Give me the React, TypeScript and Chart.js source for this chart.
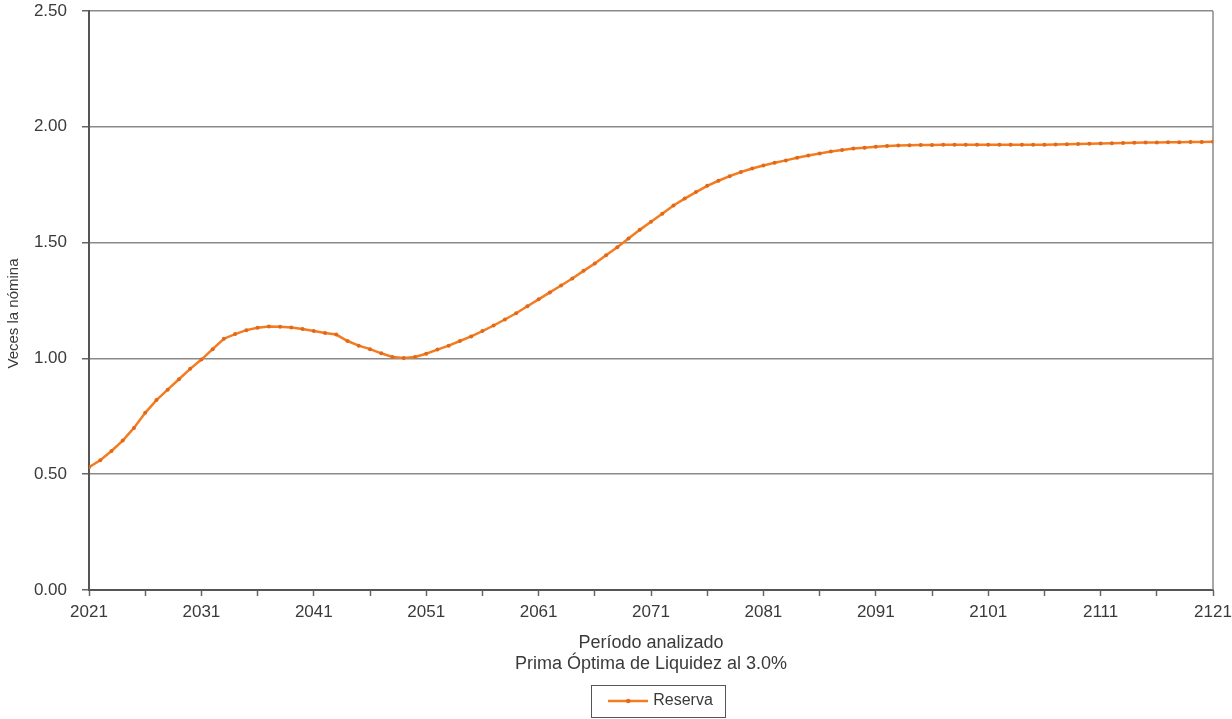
import React, { useEffect, useRef } from 'react';
import { Chart, registerables } from 'chart.js';

Chart.register(...registerables);

// Years of the analysed period (categories)
const years: number[] = Array.from({ length: 101 }, (_, i) => 2021 + i);

// Reserve, in times the payroll ("Veces la nómina")
const reserva: number[] = [
  0.530, 0.560, 0.600, 0.645, 0.700, 0.765, 0.820, 0.865, 0.910, 0.955,
  0.995, 1.040, 1.085, 1.105, 1.122, 1.132, 1.138, 1.137, 1.133, 1.127,
  1.118, 1.110, 1.103, 1.075, 1.055, 1.040, 1.022, 1.006, 1.002, 1.006,
  1.020, 1.038, 1.055, 1.075, 1.095, 1.118, 1.142, 1.168, 1.195, 1.225,
  1.255, 1.285, 1.315, 1.345, 1.378, 1.410, 1.445, 1.480, 1.518, 1.555,
  1.590, 1.625, 1.660, 1.690, 1.718, 1.745, 1.767, 1.787, 1.805, 1.820,
  1.833, 1.845, 1.855, 1.866, 1.876, 1.885, 1.893, 1.900, 1.906, 1.910,
  1.914, 1.917, 1.919, 1.920, 1.921, 1.921, 1.922, 1.922, 1.922, 1.922,
  1.922, 1.922, 1.922, 1.922, 1.923, 1.923, 1.924, 1.925, 1.926, 1.927,
  1.928, 1.929, 1.930, 1.931, 1.932, 1.932, 1.933, 1.933, 1.934, 1.934,
  1.935,
];

// Tick marks on the x axis (every 5 years) and labelled years (every 10)
const xTickYears: number[] = [
  2021, 2026, 2031, 2036, 2041, 2046, 2051, 2056, 2061, 2066, 2071,
  2076, 2081, 2086, 2091, 2096, 2101, 2106, 2111, 2116, 2121,
];
const xLabelYears: number[] = [2021, 2031, 2041, 2051, 2061, 2071, 2081, 2091, 2101, 2111, 2121];

const seriesLabel = 'Reserva';
const yTitle = 'Veces la nómina';
const xTitle = ['Período analizado', 'Prima Óptima de Liquidez al 3.0%'];

const LINE = '#F47C20';
const POINT = '#E0691A';
const TEXT = '#3a3a3a';
const FONT = "'Liberation Sans', Arial, sans-serif";

export default function App() {
  const ref = useRef<HTMLCanvasElement>(null);

  useEffect(() => {
    document.body.style.margin = '0';
    const canvas = ref.current;
    if (!canvas) return;

    // legend sample: line with a marker in the middle
    const sample = document.createElement('canvas');
    sample.width = 40;
    sample.height = 8;
    const sctx = sample.getContext('2d')!;
    sctx.strokeStyle = LINE;
    sctx.lineWidth = 2.5;
    sctx.beginPath();
    sctx.moveTo(0, 4);
    sctx.lineTo(40, 4);
    sctx.stroke();
    sctx.fillStyle = POINT;
    sctx.beginPath();
    sctx.arc(20, 4, 2.2, 0, Math.PI * 2);
    sctx.fill();

    const framePlugin = {
      id: 'frame',
      afterLayout(chart: any) {
        const lg = chart.legend;
        if (lg) {
          lg.left += 11;
          lg.right += 11;
        }
      },
      beforeDatasetsDraw(chart: any) {
        const { ctx, chartArea } = chart;
        ctx.save();
        ctx.strokeStyle = '#8a8a8a';
        ctx.lineWidth = 1.5;
        ctx.beginPath();
        ctx.moveTo(chartArea.right, chartArea.top);
        ctx.lineTo(chartArea.right, chartArea.bottom);
        ctx.stroke();
        ctx.restore();
      },
      afterDraw(chart: any) {
        const { ctx, chartArea } = chart;
        // y axis title
        ctx.save();
        ctx.fillStyle = TEXT;
        ctx.font = `15px ${FONT}`;
        ctx.textAlign = 'center';
        ctx.textBaseline = 'middle';
        ctx.translate(14, (chartArea.top + chartArea.bottom) / 2 + 13);
        ctx.rotate(-Math.PI / 2);
        ctx.fillText(yTitle, 0, 0);
        ctx.restore();

        const hb = chart.legend && chart.legend.legendHitBoxes && chart.legend.legendHitBoxes[0];
        if (!hb) return;
        ctx.save();
        ctx.strokeStyle = '#555';
        ctx.lineWidth = 1;
        ctx.strokeRect(Math.round(hb.left - 20) + 0.5, Math.round(hb.top - 8) + 0.5, Math.round(hb.width + 32), Math.round(hb.height + 16));
        ctx.restore();
      },
    };

    const chart = new Chart(canvas, {
      type: 'line',
      data: {
        datasets: [
          {
            label: seriesLabel,
            data: years.map((y, i) => ({ x: y, y: reserva[i] })),
            borderColor: LINE,
            backgroundColor: LINE,
            borderWidth: 2.5,
            pointRadius: 2,
            pointBorderWidth: 0,
            pointBackgroundColor: POINT,
            tension: 0,
            fill: false,
          },
        ],
      },
      options: {
        responsive: false,
        animation: false,
        layout: { padding: { top: 11, right: 19, left: 0, bottom: 0 } },
        plugins: {
          tooltip: { enabled: false },
          legend: {
            position: 'bottom',
            fullSize: false,
            labels: {
              usePointStyle: true,
              pointStyleWidth: 34,
              padding: 10,
              color: TEXT,
              font: { family: FONT, size: 16 },
              generateLabels: () => [
                {
                  text: seriesLabel,
                  pointStyle: sample as any,
                  fillStyle: LINE,
                  strokeStyle: LINE,
                  lineWidth: 0,
                  hidden: false,
                  datasetIndex: 0,
                  fontColor: TEXT,
                } as any,
              ],
            },
          },
        },
        scales: {
          x: {
            type: 'linear',
            min: 2021,
            max: 2121,
            afterBuildTicks: (scale: any) => {
              scale.ticks = xTickYears.map((v) => ({ value: v }));
            },
            afterFit: (scale: any) => {
              scale.height = 93;
              scale.paddingLeft = 0;
              scale.paddingRight = 0;
            },
            ticks: {
              autoSkip: false,
              maxRotation: 0,
              padding: 6,
              color: TEXT,
              font: { family: FONT, size: 17 },
              callback: (v: any) => (xLabelYears.includes(Number(v)) ? String(v) : ''),
            },
            grid: {
              drawOnChartArea: false,
              drawTicks: true,
              tickLength: 6,
              tickColor: '#666',
              tickWidth: 1.5,
            },
            border: { color: '#555', width: 2 },
            title: {
              display: true,
              text: xTitle,
              color: TEXT,
              font: { family: FONT, size: 18 },
              padding: { top: 0, bottom: 8 },
            },
          },
          y: {
            min: 0,
            max: 2.5,
            afterFit: (scale: any) => {
              scale.width = 89;
              scale.paddingTop = 0;
              scale.paddingBottom = 0;
            },
            ticks: {
              stepSize: 0.5,
              padding: 15,
              color: TEXT,
              font: { family: FONT, size: 17 },
              callback: (v: any) => Number(v).toFixed(2),
            },
            grid: {
              color: '#8a8a8a',
              lineWidth: 1.5,
              tickLength: 7,
              tickColor: '#666',
              tickWidth: 1.5,
            },
            border: { color: '#555', width: 2 },
            title: { display: false },
          },
        },
      },
      plugins: [framePlugin],
    });

    return () => chart.destroy();
  }, []);

  return (
    <div style={{ width: 1232, height: 719 }}>
      <canvas ref={ref} width={1232} height={719} style={{ display: 'block' }} />
    </div>
  );
}
